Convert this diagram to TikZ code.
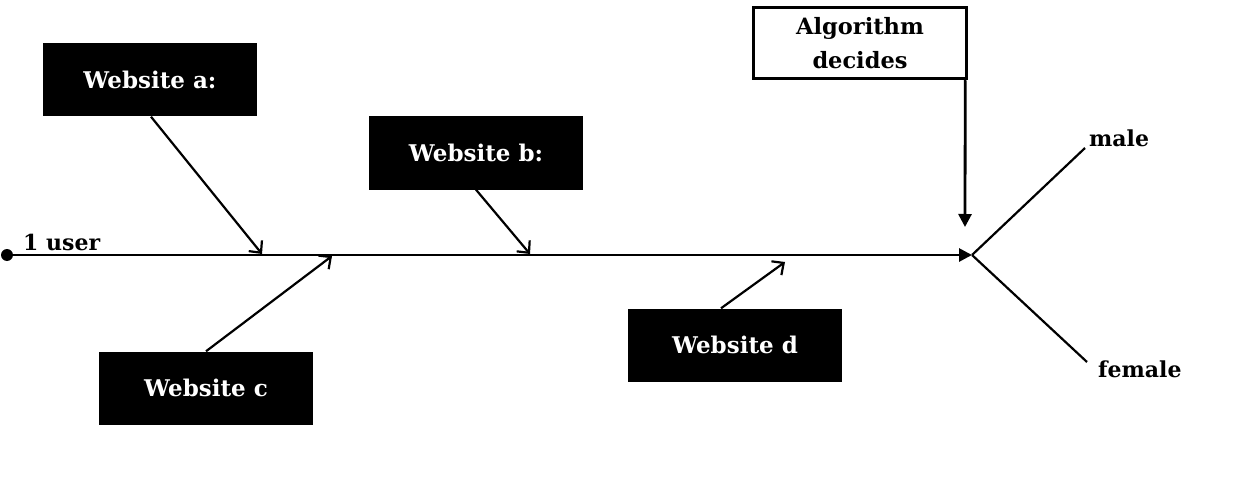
\documentclass[tikz,border=0pt]{standalone}
\usepackage{fontspec}
\setmainfont{DejaVu Serif}
\usetikzlibrary{arrows.meta}
\begin{document}
\begin{tikzpicture}[x=1pt,y=-1pt,
  blackbox/.style={fill=black,text=white,minimum width=214pt,minimum height=73pt,inner sep=0pt,font=\bfseries\fontsize{23}{26}\selectfont},
  whitebox/.style={draw=black,line width=3.5pt,fill=white,text=black,minimum width=213pt,minimum height=71pt,inner sep=0pt,align=center,font=\bfseries\fontsize{22.5}{34}\selectfont},
  lbl/.style={inner sep=0pt,font=\bfseries\fontsize{22}{26}\selectfont},
  feed/.style={line width=2.2pt,-{Straight Barb[length=9pt,width=17pt,line width=2.2pt]}},
  mainline/.style={line width=2.8pt,-{Triangle[length=13pt,width=13pt]}},
  branch/.style={line width=2.2pt}]
\useasboundingbox (0,0) rectangle (1248,500);
% nodes
\fill (7,255) circle (6pt);
\coordinate (start) at (7,255);
\coordinate (tip) at (972,255);
\node[blackbox] (wa) at (150,80) {Website a:};
\node[blackbox] (wb) at (476,153) {Website b:};
\node[blackbox] (wc) at (206,388) {Website c};
\node[blackbox] (wd) at (735,345) {Website d};
\node[whitebox] (alg) at (860,43) {Algorithm\\decides};
\node[lbl,anchor=base west] (user) at (23,250) {1 user};
\node[lbl,anchor=base west] (male) at (1089,147) {male};
\node[lbl,anchor=base west] (female) at (1098,377) {female};
\coordinate (ta) at (262,254);
\coordinate (tb) at (530,254);
\coordinate (tc) at (332,256);
\coordinate (td) at (785,262);
\coordinate (talg) at (965,227);
\coordinate (m) at (1085,148);
\coordinate (f) at (1087,362);
% connectors
\draw[mainline] (start) -- (tip);
\draw[feed] (wa.south) ++(1,0) -- (ta);
\draw[feed] (wb.south) -- (tb);
\draw[feed] (wc.north) -- (tc);
\draw[feed] (wd.north) ++(-14,0) -- (td);
\draw[line width=2.8pt,-{Triangle[length=13pt,width=13pt]}] (alg.south east) ++(-3,0) -- (talg);
\draw[branch] (tip) -- (m);
\draw[branch] (tip) -- (f);
\end{tikzpicture}
\end{document}
